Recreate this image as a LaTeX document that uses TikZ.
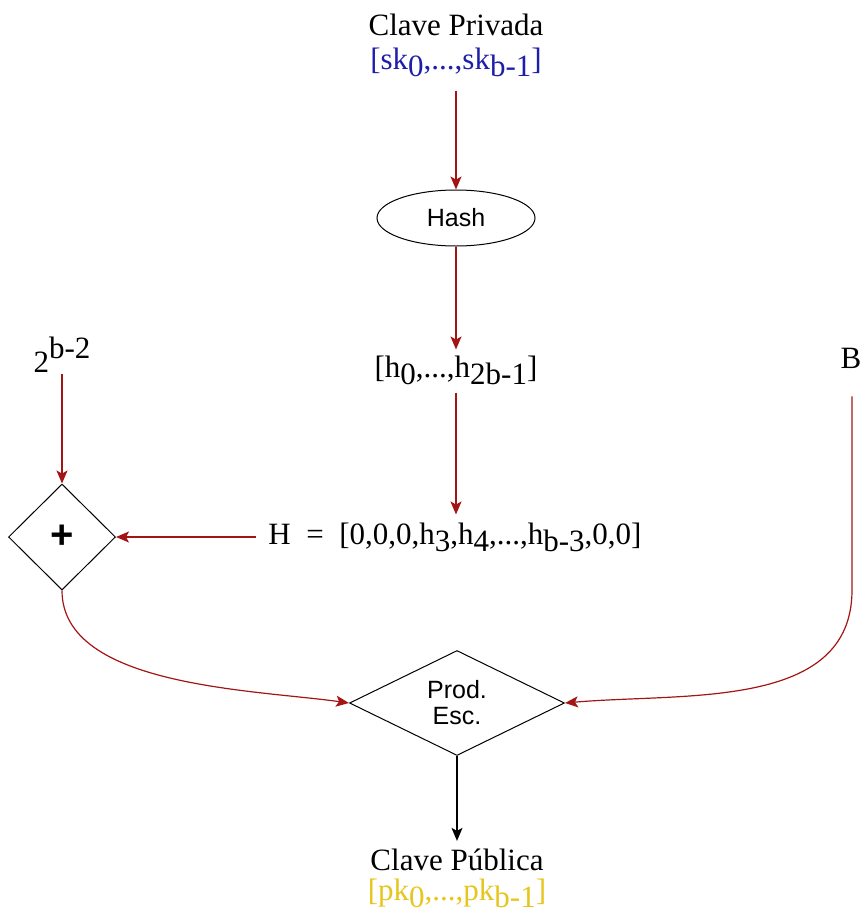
\documentclass[tikz,border=0pt]{standalone}
\usepackage{fontspec}
\setmainfont{Liberation Serif}
\setsansfont{Liberation Sans}
\usetikzlibrary{shapes.geometric,arrows.meta}

\definecolor{linkred}{HTML}{A31515}
\definecolor{keyblue}{HTML}{1E1EA8}
\definecolor{keygold}{HTML}{E6C51C}

\newcommand{\lowidx}[1]{\raisebox{-0.22em}{#1}}
\newcommand{\highidx}[1]{\raisebox{0.45em}{#1}}

\begin{document}
\begin{tikzpicture}[
  x=1pt, y=-1pt,
  every node/.style={font=\fontsize{31}{35}\selectfont, inner sep=0pt},
  proc/.style={draw, line width=1pt, font=\sffamily\fontsize{25}{26}\selectfont},
  link/.style={draw=linkred, line width=1.2pt, -{Stealth[length=13pt,width=11pt,inset=3pt]}}
]
  \useasboundingbox (0,0) rectangle (860,916);

  % keys and values
  \node (privada) at (456,25) {Clave Privada};
  \node[text=keyblue] (sk) at (456,62) {[sk\lowidx{0},...,sk\lowidx{b-1}]};
  \node[proc, ellipse, minimum width=158pt, minimum height=56pt] (hash) at (456,218) {Hash};
  \node (hlist) at (456,370) {[h\lowidx{0},...,h\lowidx{2b-1}]};
  \node (hvec) at (455,537) {H~~=~~[0,0,0,h\lowidx{3},h\lowidx{4},...,h\lowidx{b-3},0,0]};
  \node[anchor=base] (pow) at (62,372) {2\highidx{b-2}};
  \node[anchor=base] (bvec) at (851,368) {B};

  % operations
  \node[proc, diamond, minimum width=107pt, minimum height=106pt,
        font=\sffamily\bfseries\fontsize{40}{40}\selectfont] (plus) at (62,537) {+};
  \node[proc, diamond, shape aspect=2, minimum width=215pt, minimum height=105pt,
        align=center] (prod) at (457,703) {Prod.\\Esc.};

  \node (publica) at (457,860) {Clave Pública};
  \node[text=keygold] (pk) at (457,893) {[pk\lowidx{0},...,pk\lowidx{b-1}]};

  \coordinate (bturn) at (852,590);

  % connectors
  \draw[link, shorten <=14pt] (sk.south) -- (hash.north);
  \draw[link, shorten >=6pt] (hash.south) -- (hlist.north);
  \draw[link, shorten <=8pt, shorten >=8pt] (hlist.south) -- (hlist.south |- hvec.north);
  \draw[link, shorten <=12pt] (hvec.west) -- (plus.east);
  \draw[link, shorten <=2pt] (pow.south) -- (plus.north);
  \draw[link] (plus.south) to[out=-90, in=172, looseness=0.8] (prod.west);
  \draw[link, shorten <=28pt] (bvec.south -| bturn) -- (bturn) to[out=-90, in=5] (prod.east);
  \draw[link, draw=black, shorten >=8pt] (prod.south) -- (publica.north);
\end{tikzpicture}
\end{document}
